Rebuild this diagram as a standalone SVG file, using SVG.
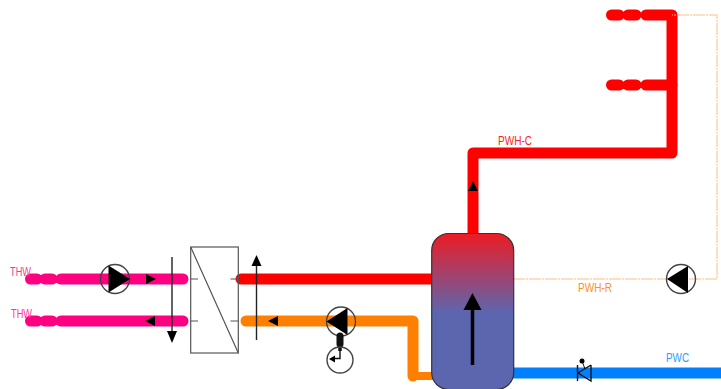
<svg xmlns="http://www.w3.org/2000/svg" width="721" height="389" viewBox="0 0 721 389">
<style>
.p{fill:none;stroke-linecap:round;stroke-linejoin:round;stroke-width:11}
.pink{stroke:#ff0080}.red{stroke:#ff0000}.org{stroke:#ff8000}.blu{stroke:#0080ff}
.tick{fill:none;stroke:#555;stroke-width:1.2}
.ln{fill:none;stroke:#222;stroke-width:1.4}
.pc{fill:#fff;fill-opacity:0;stroke:#444;stroke-width:1.4}
text{font-family:"Liberation Sans",Arial,sans-serif;font-size:12px}
</style>
<defs>
<linearGradient id="tg" x1="0" y1="0" x2="0" y2="1">
<stop offset="0" stop-color="#ec1c24"/>
<stop offset="0.51" stop-color="#5c66ae"/>
<stop offset="1" stop-color="#5c66ae"/>
</linearGradient>
</defs>
<g id="connectors">
<g class="p pink"><path d="M30.500 279H37M45 279H52M61 279H183"/><path d="M30.500 321H37M45 321H52M61 321H183"/></g>
<path class="p red" d="M611.500 15H619M628 15H636M646 15H672V153H473V236"/>
<path class="p red" d="M611.500 85H619M628 85H636M646 85H672"/>
<path class="p red" d="M241 279H434"/>
<path class="p org" d="M246 321H413V376"/>
<path class="org" fill="none" stroke-width="8" d="M413 376H434"/>
<path class="p blu" style="stroke-linecap:butt" d="M512 373H721"/>
<path d="M513 279H717V15H672" fill="none" stroke="#ffbf80" stroke-width="1" stroke-dasharray="12 1 2 1"/>
</g>
<g id="heat-exchanger">
<rect x="190.700" y="247" width="47.600" height="106" fill="#fff" fill-opacity="0" stroke="#555" stroke-width="1.200"/>
<path class="tick" d="M190.700 247L238.300 353M190.700 279H198M190.700 321H198M230.500 279H238.300M230.500 321H238.300"/>
</g>
<g id="flow-down"><path class="ln" d="M172 257V332"/><path d="M167 331H177L172 343Z"/></g>
<g id="flow-up"><path class="ln" d="M256.500 340V265"/><path d="M251.500 266H261.500L256.500 255Z"/></g>
<g id="dir-arrows">
<path d="M146 274L156 279L146 284Z"/><path d="M155 316L145 321L155 326Z"/>
<path d="M278 316L268 321L278 326Z"/><path d="M468 191L473 181L478 191Z"/>
</g>
<g id="pump-thw">
<circle class="pc" cx="115" cy="279" r="14.500"/><path d="M108.500 265.500L130 279L108.500 292.500Z"/>
</g>
<g id="pump-return">
<circle class="pc" cx="341" cy="321.500" r="14.500"/><path d="M326.500 321.500L347.500 308V335Z"/>
</g>
<g id="sensor">
<path d="M340 336V344" stroke="#111" stroke-width="7" stroke-linecap="round" fill="none"/>
<path d="M340 346V351" stroke="#111" stroke-width="3.500" fill="none"/>
<circle class="pc" cx="340" cy="360" r="13"/>
<path d="M340 350V358.500H335" fill="none" stroke="#111" stroke-width="1.400"/>
<path d="M335 355.500L329 359L335 362.500Z"/>
</g>
<g id="tank">
<rect x="431.700" y="233.500" width="82" height="156" rx="17" fill="url(#tg)" stroke="#333" stroke-width="1.200"/>
<path d="M472.500 365V308" stroke="#000" stroke-width="3.500" fill="none"/>
<path d="M463.500 310L472.500 293L481.500 310Z"/>
</g>
<g id="pump-pwh-r">
<circle class="pc" cx="681" cy="279" r="14.500"/><path d="M667 279L688 266V293Z"/>
</g>
<g id="valve">
<path d="M577.500 365V381M591 365V381L578 373L591 365" fill="none" stroke="#111" stroke-width="1.400"/>
<path d="M582 361L585 369" stroke="#111" stroke-width="1" fill="none"/>
<circle cx="582" cy="361" r="2.500"/>
</g>
<g id="labels">
<text x="10" y="276" fill="#ff3399" textLength="21" lengthAdjust="spacingAndGlyphs">THW</text>
<text x="11" y="318" fill="#ff3399" textLength="21" lengthAdjust="spacingAndGlyphs">THW</text>
<text x="498" y="145" fill="#ff2020" textLength="34" lengthAdjust="spacingAndGlyphs">PWH-C</text>
<text x="578" y="292" fill="#ff9020" textLength="34" lengthAdjust="spacingAndGlyphs">PWH-R</text>
<text x="666" y="362" fill="#3399ff" textLength="23" lengthAdjust="spacingAndGlyphs">PWC</text>
</g>
</svg>
